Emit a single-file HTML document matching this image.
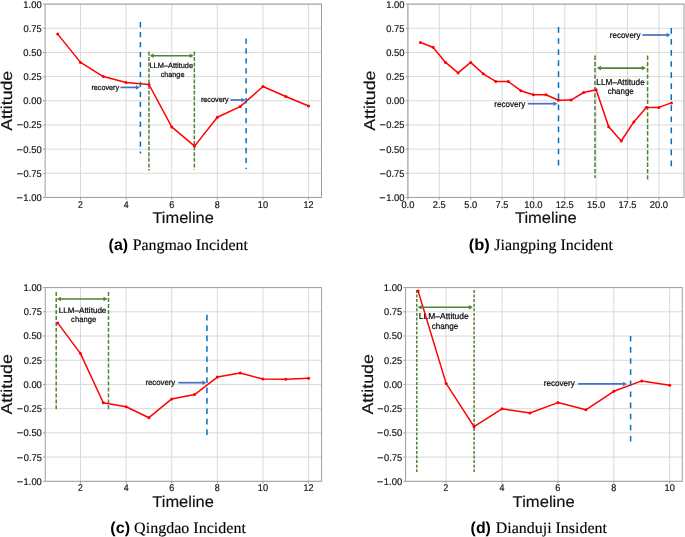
<!DOCTYPE html>
<html><head><meta charset="utf-8"><title>Attitude timelines</title>
<style>html,body{margin:0;padding:0;background:#fff;} svg{display:block;will-change:transform;text-rendering:geometricPrecision;} body{overflow:hidden;width:685px;height:537px;}</style>
</head><body>
<svg width="685" height="537" viewBox="0 0 685 537"><line x1="80.50" y1="4.11" x2="80.50" y2="197.45" stroke="#dadada" stroke-width="1"/>
<line x1="126.12" y1="4.11" x2="126.12" y2="197.45" stroke="#dadada" stroke-width="1"/>
<line x1="171.74" y1="4.11" x2="171.74" y2="197.45" stroke="#dadada" stroke-width="1"/>
<line x1="217.36" y1="4.11" x2="217.36" y2="197.45" stroke="#dadada" stroke-width="1"/>
<line x1="262.98" y1="4.11" x2="262.98" y2="197.45" stroke="#dadada" stroke-width="1"/>
<line x1="308.60" y1="4.11" x2="308.60" y2="197.45" stroke="#dadada" stroke-width="1"/>
<line x1="45.15" y1="4.11" x2="321.50" y2="4.11" stroke="#dadada" stroke-width="1"/>
<line x1="45.15" y1="28.28" x2="321.50" y2="28.28" stroke="#dadada" stroke-width="1"/>
<line x1="45.15" y1="52.45" x2="321.50" y2="52.45" stroke="#dadada" stroke-width="1"/>
<line x1="45.15" y1="76.61" x2="321.50" y2="76.61" stroke="#dadada" stroke-width="1"/>
<line x1="45.15" y1="100.78" x2="321.50" y2="100.78" stroke="#dadada" stroke-width="1"/>
<line x1="45.15" y1="124.95" x2="321.50" y2="124.95" stroke="#dadada" stroke-width="1"/>
<line x1="45.15" y1="149.12" x2="321.50" y2="149.12" stroke="#dadada" stroke-width="1"/>
<line x1="45.15" y1="173.28" x2="321.50" y2="173.28" stroke="#dadada" stroke-width="1"/>
<line x1="45.15" y1="197.45" x2="321.50" y2="197.45" stroke="#dadada" stroke-width="1"/>
<rect x="45.15" y="4.11" width="276.35" height="193.34" fill="none" stroke="#9e9e9e" stroke-width="1.0"/>
<line x1="42.95" y1="4.11" x2="45.15" y2="4.11" stroke="#9e9e9e" stroke-width="1"/>
<text x="23.36" y="7.53" font-family='"Liberation Sans"' font-size="9.8" fill="#111" textLength="18.31" lengthAdjust="spacingAndGlyphs" stroke="#1a1a1a" stroke-width="0.2">1.00</text>
<line x1="42.95" y1="28.28" x2="45.15" y2="28.28" stroke="#9e9e9e" stroke-width="1"/>
<text x="23.52" y="31.70" font-family='"Liberation Sans"' font-size="9.8" fill="#111" textLength="18.17" lengthAdjust="spacingAndGlyphs" stroke="#1a1a1a" stroke-width="0.2">0.75</text>
<line x1="42.95" y1="52.45" x2="45.15" y2="52.45" stroke="#9e9e9e" stroke-width="1"/>
<text x="23.34" y="55.87" font-family='"Liberation Sans"' font-size="9.8" fill="#111" textLength="18.33" lengthAdjust="spacingAndGlyphs" stroke="#1a1a1a" stroke-width="0.2">0.50</text>
<line x1="42.95" y1="76.61" x2="45.15" y2="76.61" stroke="#9e9e9e" stroke-width="1"/>
<text x="23.52" y="80.03" font-family='"Liberation Sans"' font-size="9.8" fill="#111" textLength="18.17" lengthAdjust="spacingAndGlyphs" stroke="#1a1a1a" stroke-width="0.2">0.25</text>
<line x1="42.95" y1="100.78" x2="45.15" y2="100.78" stroke="#9e9e9e" stroke-width="1"/>
<text x="23.34" y="104.20" font-family='"Liberation Sans"' font-size="9.8" fill="#111" textLength="18.33" lengthAdjust="spacingAndGlyphs" stroke="#1a1a1a" stroke-width="0.2">0.00</text>
<line x1="42.95" y1="124.95" x2="45.15" y2="124.95" stroke="#9e9e9e" stroke-width="1"/>
<text x="16.65" y="128.37" font-family='"Liberation Sans"' font-size="9.8" fill="#111" textLength="6.32" lengthAdjust="spacingAndGlyphs" stroke="#1a1a1a" stroke-width="0.2">−</text>
<text x="23.52" y="128.37" font-family='"Liberation Sans"' font-size="9.8" fill="#111" textLength="18.17" lengthAdjust="spacingAndGlyphs" stroke="#1a1a1a" stroke-width="0.2">0.25</text>
<line x1="42.95" y1="149.12" x2="45.15" y2="149.12" stroke="#9e9e9e" stroke-width="1"/>
<text x="16.47" y="152.54" font-family='"Liberation Sans"' font-size="9.8" fill="#111" textLength="6.32" lengthAdjust="spacingAndGlyphs" stroke="#1a1a1a" stroke-width="0.2">−</text>
<text x="23.34" y="152.54" font-family='"Liberation Sans"' font-size="9.8" fill="#111" textLength="18.33" lengthAdjust="spacingAndGlyphs" stroke="#1a1a1a" stroke-width="0.2">0.50</text>
<line x1="42.95" y1="173.28" x2="45.15" y2="173.28" stroke="#9e9e9e" stroke-width="1"/>
<text x="16.65" y="176.70" font-family='"Liberation Sans"' font-size="9.8" fill="#111" textLength="6.32" lengthAdjust="spacingAndGlyphs" stroke="#1a1a1a" stroke-width="0.2">−</text>
<text x="23.52" y="176.70" font-family='"Liberation Sans"' font-size="9.8" fill="#111" textLength="18.17" lengthAdjust="spacingAndGlyphs" stroke="#1a1a1a" stroke-width="0.2">0.75</text>
<line x1="42.95" y1="197.45" x2="45.15" y2="197.45" stroke="#9e9e9e" stroke-width="1"/>
<text x="16.47" y="200.87" font-family='"Liberation Sans"' font-size="9.8" fill="#111" textLength="6.32" lengthAdjust="spacingAndGlyphs" stroke="#1a1a1a" stroke-width="0.2">−</text>
<text x="23.36" y="200.87" font-family='"Liberation Sans"' font-size="9.8" fill="#111" textLength="18.31" lengthAdjust="spacingAndGlyphs" stroke="#1a1a1a" stroke-width="0.2">1.00</text>
<line x1="80.50" y1="197.45" x2="80.50" y2="199.65" stroke="#9e9e9e" stroke-width="1"/>
<text x="78.01" y="208.05" font-family='"Liberation Sans"' font-size="9.8" fill="#111" textLength="4.75" lengthAdjust="spacingAndGlyphs" stroke="#1a1a1a" stroke-width="0.2">2</text>
<line x1="126.12" y1="197.45" x2="126.12" y2="199.65" stroke="#9e9e9e" stroke-width="1"/>
<text x="123.65" y="208.05" font-family='"Liberation Sans"' font-size="9.8" fill="#111" textLength="4.93" lengthAdjust="spacingAndGlyphs" stroke="#1a1a1a" stroke-width="0.2">4</text>
<line x1="171.74" y1="197.45" x2="171.74" y2="199.65" stroke="#9e9e9e" stroke-width="1"/>
<text x="169.19" y="208.05" font-family='"Liberation Sans"' font-size="9.8" fill="#111" textLength="5.10" lengthAdjust="spacingAndGlyphs" stroke="#1a1a1a" stroke-width="0.2">6</text>
<line x1="217.36" y1="197.45" x2="217.36" y2="199.65" stroke="#9e9e9e" stroke-width="1"/>
<text x="214.87" y="208.05" font-family='"Liberation Sans"' font-size="9.8" fill="#111" textLength="4.98" lengthAdjust="spacingAndGlyphs" stroke="#1a1a1a" stroke-width="0.2">8</text>
<line x1="262.98" y1="197.45" x2="262.98" y2="199.65" stroke="#9e9e9e" stroke-width="1"/>
<text x="257.86" y="208.05" font-family='"Liberation Sans"' font-size="9.8" fill="#111" textLength="10.27" lengthAdjust="spacingAndGlyphs" stroke="#1a1a1a" stroke-width="0.2">10</text>
<line x1="308.60" y1="197.45" x2="308.60" y2="199.65" stroke="#9e9e9e" stroke-width="1"/>
<text x="303.49" y="208.05" font-family='"Liberation Sans"' font-size="9.8" fill="#111" textLength="10.07" lengthAdjust="spacingAndGlyphs" stroke="#1a1a1a" stroke-width="0.2">12</text>
<text x="152.44" y="223.00" font-family='"Liberation Sans"' font-size="15.7" fill="#111" textLength="61.39" lengthAdjust="spacingAndGlyphs" stroke="#111" stroke-width="0.15">Timeline</text>
<g transform="rotate(-90)">
<text x="-130.88" y="12.10" font-family='"Liberation Sans"' font-size="15.7" fill="#111" textLength="60.07" lengthAdjust="spacingAndGlyphs" stroke="#111" stroke-width="0.15">Attitude</text>
</g>
<line x1="148.95" y1="51.40" x2="148.95" y2="170.40" stroke="#538135" stroke-width="1.5" stroke-dasharray="4.00 1.60"/>
<line x1="194.35" y1="51.40" x2="194.35" y2="169.50" stroke="#538135" stroke-width="1.5" stroke-dasharray="4.00 1.60"/>
<text x="91.42" y="90.00" font-family='"Liberation Sans"' font-size="7.6" fill="#0a0a0a" textLength="27.69" lengthAdjust="spacingAndGlyphs" stroke="#0a0a0a" stroke-width="0.22">recovery</text>
<text x="200.92" y="101.90" font-family='"Liberation Sans"' font-size="7.6" fill="#0a0a0a" textLength="27.85" lengthAdjust="spacingAndGlyphs" stroke="#0a0a0a" stroke-width="0.22">recovery</text>
<text x="149.39" y="67.80" font-family='"Liberation Sans"' font-size="7.6" fill="#0a0a0a" textLength="43.74" lengthAdjust="spacingAndGlyphs" stroke="#0a0a0a" stroke-width="0.22">LLM–Attitude</text>
<text x="160.69" y="76.80" font-family='"Liberation Sans"' font-size="7.6" fill="#0a0a0a" textLength="23.73" lengthAdjust="spacingAndGlyphs" stroke="#0a0a0a" stroke-width="0.22">change</text>
<polyline points="57.69,34.10 80.50,62.40 103.31,76.60 126.12,82.50 148.93,84.50 171.74,126.90 194.55,146.10 217.36,117.30 240.17,106.60 262.98,86.50 285.79,96.50 308.60,106.00" fill="none" stroke="#ff0000" stroke-width="1.5" stroke-linejoin="round"/>
<circle cx="57.69" cy="34.10" r="1.5" fill="#ff0000"/>
<circle cx="80.50" cy="62.40" r="1.5" fill="#ff0000"/>
<circle cx="103.31" cy="76.60" r="1.5" fill="#ff0000"/>
<circle cx="126.12" cy="82.50" r="1.5" fill="#ff0000"/>
<circle cx="148.93" cy="84.50" r="1.5" fill="#ff0000"/>
<circle cx="171.74" cy="126.90" r="1.5" fill="#ff0000"/>
<circle cx="194.55" cy="146.10" r="1.5" fill="#ff0000"/>
<circle cx="217.36" cy="117.30" r="1.5" fill="#ff0000"/>
<circle cx="240.17" cy="106.60" r="1.5" fill="#ff0000"/>
<circle cx="262.98" cy="86.50" r="1.5" fill="#ff0000"/>
<circle cx="285.79" cy="96.50" r="1.5" fill="#ff0000"/>
<circle cx="308.60" cy="106.00" r="1.5" fill="#ff0000"/>
<line x1="140.40" y1="22.10" x2="140.40" y2="153.40" stroke="#0070c0" stroke-width="1.5" stroke-dasharray="5.30 4.65"/>
<line x1="246.10" y1="38.40" x2="246.10" y2="169.00" stroke="#0070c0" stroke-width="1.5" stroke-dasharray="5.30 4.65"/>
<line x1="153.10" y1="55.80" x2="190.20" y2="55.80" stroke="#538135" stroke-width="1.6"/>
<path d="M149.60,55.80 L153.60,53.50 L153.60,58.10 Z" fill="#538135"/>
<path d="M193.70,55.80 L189.70,53.50 L189.70,58.10 Z" fill="#538135"/>
<line x1="120.50" y1="87.40" x2="136.40" y2="87.40" stroke="#4472c4" stroke-width="1.7"/>
<path d="M139.90,87.40 L135.90,85.10 L135.90,89.70 Z" fill="#4472c4"/>
<line x1="230.30" y1="100.00" x2="242.00" y2="100.00" stroke="#4472c4" stroke-width="1.7"/>
<path d="M245.50,100.00 L241.50,97.70 L241.50,102.30 Z" fill="#4472c4"/>
<text x="108.61" y="249.50" font-family='"Liberation Sans"' font-size="16" font-weight="bold" fill="#000" textLength="19.49" lengthAdjust="spacingAndGlyphs">(a)</text>
<text x="132.74" y="249.50" font-family='"Liberation Serif"' font-size="15.9" fill="#000" textLength="115.15" lengthAdjust="spacingAndGlyphs" stroke="#000" stroke-width="0.15">Pangmao Incident</text>
<line x1="407.90" y1="4.11" x2="407.90" y2="197.45" stroke="#dadada" stroke-width="1"/>
<line x1="439.27" y1="4.11" x2="439.27" y2="197.45" stroke="#dadada" stroke-width="1"/>
<line x1="470.65" y1="4.11" x2="470.65" y2="197.45" stroke="#dadada" stroke-width="1"/>
<line x1="502.02" y1="4.11" x2="502.02" y2="197.45" stroke="#dadada" stroke-width="1"/>
<line x1="533.40" y1="4.11" x2="533.40" y2="197.45" stroke="#dadada" stroke-width="1"/>
<line x1="564.77" y1="4.11" x2="564.77" y2="197.45" stroke="#dadada" stroke-width="1"/>
<line x1="596.15" y1="4.11" x2="596.15" y2="197.45" stroke="#dadada" stroke-width="1"/>
<line x1="627.52" y1="4.11" x2="627.52" y2="197.45" stroke="#dadada" stroke-width="1"/>
<line x1="658.90" y1="4.11" x2="658.90" y2="197.45" stroke="#dadada" stroke-width="1"/>
<line x1="407.90" y1="4.11" x2="684.00" y2="4.11" stroke="#dadada" stroke-width="1"/>
<line x1="407.90" y1="28.28" x2="684.00" y2="28.28" stroke="#dadada" stroke-width="1"/>
<line x1="407.90" y1="52.45" x2="684.00" y2="52.45" stroke="#dadada" stroke-width="1"/>
<line x1="407.90" y1="76.61" x2="684.00" y2="76.61" stroke="#dadada" stroke-width="1"/>
<line x1="407.90" y1="100.78" x2="684.00" y2="100.78" stroke="#dadada" stroke-width="1"/>
<line x1="407.90" y1="124.95" x2="684.00" y2="124.95" stroke="#dadada" stroke-width="1"/>
<line x1="407.90" y1="149.12" x2="684.00" y2="149.12" stroke="#dadada" stroke-width="1"/>
<line x1="407.90" y1="173.28" x2="684.00" y2="173.28" stroke="#dadada" stroke-width="1"/>
<line x1="407.90" y1="197.45" x2="684.00" y2="197.45" stroke="#dadada" stroke-width="1"/>
<rect x="407.90" y="4.11" width="276.10" height="193.34" fill="none" stroke="#9e9e9e" stroke-width="1.0"/>
<line x1="405.70" y1="4.11" x2="407.90" y2="4.11" stroke="#9e9e9e" stroke-width="1"/>
<text x="386.16" y="7.53" font-family='"Liberation Sans"' font-size="9.8" fill="#111" textLength="18.31" lengthAdjust="spacingAndGlyphs" stroke="#1a1a1a" stroke-width="0.2">1.00</text>
<line x1="405.70" y1="28.28" x2="407.90" y2="28.28" stroke="#9e9e9e" stroke-width="1"/>
<text x="386.32" y="31.70" font-family='"Liberation Sans"' font-size="9.8" fill="#111" textLength="18.17" lengthAdjust="spacingAndGlyphs" stroke="#1a1a1a" stroke-width="0.2">0.75</text>
<line x1="405.70" y1="52.45" x2="407.90" y2="52.45" stroke="#9e9e9e" stroke-width="1"/>
<text x="386.14" y="55.87" font-family='"Liberation Sans"' font-size="9.8" fill="#111" textLength="18.33" lengthAdjust="spacingAndGlyphs" stroke="#1a1a1a" stroke-width="0.2">0.50</text>
<line x1="405.70" y1="76.61" x2="407.90" y2="76.61" stroke="#9e9e9e" stroke-width="1"/>
<text x="386.32" y="80.03" font-family='"Liberation Sans"' font-size="9.8" fill="#111" textLength="18.17" lengthAdjust="spacingAndGlyphs" stroke="#1a1a1a" stroke-width="0.2">0.25</text>
<line x1="405.70" y1="100.78" x2="407.90" y2="100.78" stroke="#9e9e9e" stroke-width="1"/>
<text x="386.14" y="104.20" font-family='"Liberation Sans"' font-size="9.8" fill="#111" textLength="18.33" lengthAdjust="spacingAndGlyphs" stroke="#1a1a1a" stroke-width="0.2">0.00</text>
<line x1="405.70" y1="124.95" x2="407.90" y2="124.95" stroke="#9e9e9e" stroke-width="1"/>
<text x="379.45" y="128.37" font-family='"Liberation Sans"' font-size="9.8" fill="#111" textLength="6.32" lengthAdjust="spacingAndGlyphs" stroke="#1a1a1a" stroke-width="0.2">−</text>
<text x="386.32" y="128.37" font-family='"Liberation Sans"' font-size="9.8" fill="#111" textLength="18.17" lengthAdjust="spacingAndGlyphs" stroke="#1a1a1a" stroke-width="0.2">0.25</text>
<line x1="405.70" y1="149.12" x2="407.90" y2="149.12" stroke="#9e9e9e" stroke-width="1"/>
<text x="379.27" y="152.54" font-family='"Liberation Sans"' font-size="9.8" fill="#111" textLength="6.32" lengthAdjust="spacingAndGlyphs" stroke="#1a1a1a" stroke-width="0.2">−</text>
<text x="386.14" y="152.54" font-family='"Liberation Sans"' font-size="9.8" fill="#111" textLength="18.33" lengthAdjust="spacingAndGlyphs" stroke="#1a1a1a" stroke-width="0.2">0.50</text>
<line x1="405.70" y1="173.28" x2="407.90" y2="173.28" stroke="#9e9e9e" stroke-width="1"/>
<text x="379.45" y="176.70" font-family='"Liberation Sans"' font-size="9.8" fill="#111" textLength="6.32" lengthAdjust="spacingAndGlyphs" stroke="#1a1a1a" stroke-width="0.2">−</text>
<text x="386.32" y="176.70" font-family='"Liberation Sans"' font-size="9.8" fill="#111" textLength="18.17" lengthAdjust="spacingAndGlyphs" stroke="#1a1a1a" stroke-width="0.2">0.75</text>
<line x1="405.70" y1="197.45" x2="407.90" y2="197.45" stroke="#9e9e9e" stroke-width="1"/>
<text x="379.27" y="200.87" font-family='"Liberation Sans"' font-size="9.8" fill="#111" textLength="6.32" lengthAdjust="spacingAndGlyphs" stroke="#1a1a1a" stroke-width="0.2">−</text>
<text x="386.16" y="200.87" font-family='"Liberation Sans"' font-size="9.8" fill="#111" textLength="18.31" lengthAdjust="spacingAndGlyphs" stroke="#1a1a1a" stroke-width="0.2">1.00</text>
<line x1="407.90" y1="197.45" x2="407.90" y2="199.65" stroke="#9e9e9e" stroke-width="1"/>
<text x="401.41" y="208.05" font-family='"Liberation Sans"' font-size="9.8" fill="#111" textLength="12.98" lengthAdjust="spacingAndGlyphs" stroke="#1a1a1a" stroke-width="0.2">0.0</text>
<line x1="439.27" y1="197.45" x2="439.27" y2="199.65" stroke="#9e9e9e" stroke-width="1"/>
<text x="432.75" y="208.05" font-family='"Liberation Sans"' font-size="9.8" fill="#111" textLength="12.86" lengthAdjust="spacingAndGlyphs" stroke="#1a1a1a" stroke-width="0.2">2.5</text>
<line x1="470.65" y1="197.45" x2="470.65" y2="199.65" stroke="#9e9e9e" stroke-width="1"/>
<text x="464.25" y="208.05" font-family='"Liberation Sans"' font-size="9.8" fill="#111" textLength="12.89" lengthAdjust="spacingAndGlyphs" stroke="#1a1a1a" stroke-width="0.2">5.0</text>
<line x1="502.02" y1="197.45" x2="502.02" y2="199.65" stroke="#9e9e9e" stroke-width="1"/>
<text x="495.56" y="208.05" font-family='"Liberation Sans"' font-size="9.8" fill="#111" textLength="12.79" lengthAdjust="spacingAndGlyphs" stroke="#1a1a1a" stroke-width="0.2">7.5</text>
<line x1="533.40" y1="197.45" x2="533.40" y2="199.65" stroke="#9e9e9e" stroke-width="1"/>
<text x="524.25" y="208.05" font-family='"Liberation Sans"' font-size="9.8" fill="#111" textLength="18.31" lengthAdjust="spacingAndGlyphs" stroke="#1a1a1a" stroke-width="0.2">10.0</text>
<line x1="564.77" y1="197.45" x2="564.77" y2="199.65" stroke="#9e9e9e" stroke-width="1"/>
<text x="555.64" y="208.05" font-family='"Liberation Sans"' font-size="9.8" fill="#111" textLength="18.15" lengthAdjust="spacingAndGlyphs" stroke="#1a1a1a" stroke-width="0.2">12.5</text>
<line x1="596.15" y1="197.45" x2="596.15" y2="199.65" stroke="#9e9e9e" stroke-width="1"/>
<text x="587.00" y="208.05" font-family='"Liberation Sans"' font-size="9.8" fill="#111" textLength="18.31" lengthAdjust="spacingAndGlyphs" stroke="#1a1a1a" stroke-width="0.2">15.0</text>
<line x1="627.52" y1="197.45" x2="627.52" y2="199.65" stroke="#9e9e9e" stroke-width="1"/>
<text x="618.39" y="208.05" font-family='"Liberation Sans"' font-size="9.8" fill="#111" textLength="18.15" lengthAdjust="spacingAndGlyphs" stroke="#1a1a1a" stroke-width="0.2">17.5</text>
<line x1="658.90" y1="197.45" x2="658.90" y2="199.65" stroke="#9e9e9e" stroke-width="1"/>
<text x="649.69" y="208.05" font-family='"Liberation Sans"' font-size="9.8" fill="#111" textLength="18.37" lengthAdjust="spacingAndGlyphs" stroke="#1a1a1a" stroke-width="0.2">20.0</text>
<text x="514.93" y="223.00" font-family='"Liberation Sans"' font-size="15.7" fill="#111" textLength="61.79" lengthAdjust="spacingAndGlyphs" stroke="#111" stroke-width="0.15">Timeline</text>
<g transform="rotate(-90)">
<text x="-130.88" y="374.90" font-family='"Liberation Sans"' font-size="15.7" fill="#111" textLength="60.38" lengthAdjust="spacingAndGlyphs" stroke="#111" stroke-width="0.15">Attitude</text>
</g>
<line x1="594.95" y1="55.50" x2="594.95" y2="178.00" stroke="#538135" stroke-width="1.5" stroke-dasharray="4.40 1.90"/>
<line x1="647.60" y1="55.50" x2="647.60" y2="181.40" stroke="#538135" stroke-width="1.5" stroke-dasharray="4.40 1.90"/>
<text x="494.36" y="106.70" font-family='"Liberation Sans"' font-size="8.6" fill="#0a0a0a" textLength="30.95" lengthAdjust="spacingAndGlyphs" stroke="#0a0a0a" stroke-width="0.22">recovery</text>
<text x="609.77" y="37.50" font-family='"Liberation Sans"' font-size="8.6" fill="#0a0a0a" textLength="30.75" lengthAdjust="spacingAndGlyphs" stroke="#0a0a0a" stroke-width="0.22">recovery</text>
<text x="596.33" y="84.60" font-family='"Liberation Sans"' font-size="8.6" fill="#0a0a0a" textLength="48.44" lengthAdjust="spacingAndGlyphs" stroke="#0a0a0a" stroke-width="0.22">LLM–Attitude</text>
<text x="607.66" y="93.70" font-family='"Liberation Sans"' font-size="8.6" fill="#0a0a0a" textLength="26.09" lengthAdjust="spacingAndGlyphs" stroke="#0a0a0a" stroke-width="0.22">change</text>
<polyline points="420.45,42.50 433.00,47.30 445.55,62.40 458.10,72.90 470.65,62.40 483.20,73.80 495.75,81.40 508.30,81.50 520.85,90.70 533.40,94.70 545.95,94.70 558.50,100.20 571.05,100.10 583.60,92.50 596.15,89.70 608.70,126.70 621.25,141.00 633.80,121.90 646.35,107.40 658.90,107.40 671.45,102.90" fill="none" stroke="#ff0000" stroke-width="1.5" stroke-linejoin="round"/>
<circle cx="420.45" cy="42.50" r="1.5" fill="#ff0000"/>
<circle cx="433.00" cy="47.30" r="1.5" fill="#ff0000"/>
<circle cx="445.55" cy="62.40" r="1.5" fill="#ff0000"/>
<circle cx="458.10" cy="72.90" r="1.5" fill="#ff0000"/>
<circle cx="470.65" cy="62.40" r="1.5" fill="#ff0000"/>
<circle cx="483.20" cy="73.80" r="1.5" fill="#ff0000"/>
<circle cx="495.75" cy="81.40" r="1.5" fill="#ff0000"/>
<circle cx="508.30" cy="81.50" r="1.5" fill="#ff0000"/>
<circle cx="520.85" cy="90.70" r="1.5" fill="#ff0000"/>
<circle cx="533.40" cy="94.70" r="1.5" fill="#ff0000"/>
<circle cx="545.95" cy="94.70" r="1.5" fill="#ff0000"/>
<circle cx="558.50" cy="100.20" r="1.5" fill="#ff0000"/>
<circle cx="571.05" cy="100.10" r="1.5" fill="#ff0000"/>
<circle cx="583.60" cy="92.50" r="1.5" fill="#ff0000"/>
<circle cx="596.15" cy="89.70" r="1.5" fill="#ff0000"/>
<circle cx="608.70" cy="126.70" r="1.5" fill="#ff0000"/>
<circle cx="621.25" cy="141.00" r="1.5" fill="#ff0000"/>
<circle cx="633.80" cy="121.90" r="1.5" fill="#ff0000"/>
<circle cx="646.35" cy="107.40" r="1.5" fill="#ff0000"/>
<circle cx="658.90" cy="107.40" r="1.5" fill="#ff0000"/>
<circle cx="671.45" cy="102.90" r="1.5" fill="#ff0000"/>
<line x1="558.50" y1="27.10" x2="558.50" y2="170.00" stroke="#0070c0" stroke-width="1.5" stroke-dasharray="5.70 5.35"/>
<line x1="671.30" y1="28.00" x2="671.30" y2="171.00" stroke="#0070c0" stroke-width="1.5" stroke-dasharray="5.70 5.35"/>
<line x1="600.40" y1="68.10" x2="642.30" y2="68.10" stroke="#538135" stroke-width="1.6"/>
<path d="M596.90,68.10 L600.90,65.80 L600.90,70.40 Z" fill="#538135"/>
<path d="M645.80,68.10 L641.80,65.80 L641.80,70.40 Z" fill="#538135"/>
<line x1="527.80" y1="103.70" x2="553.90" y2="103.70" stroke="#4472c4" stroke-width="1.7"/>
<path d="M557.40,103.70 L553.40,101.40 L553.40,106.00 Z" fill="#4472c4"/>
<line x1="642.30" y1="35.00" x2="667.10" y2="35.00" stroke="#4472c4" stroke-width="1.7"/>
<path d="M670.60,35.00 L666.60,32.70 L666.60,37.30 Z" fill="#4472c4"/>
<text x="468.68" y="249.50" font-family='"Liberation Sans"' font-size="16" font-weight="bold" fill="#000" textLength="21.04" lengthAdjust="spacingAndGlyphs">(b)</text>
<text x="494.26" y="249.50" font-family='"Liberation Serif"' font-size="15.9" fill="#000" textLength="118.63" lengthAdjust="spacingAndGlyphs" stroke="#000" stroke-width="0.15">Jiangping Incident</text>
<line x1="80.50" y1="287.60" x2="80.50" y2="481.30" stroke="#dadada" stroke-width="1"/>
<line x1="126.12" y1="287.60" x2="126.12" y2="481.30" stroke="#dadada" stroke-width="1"/>
<line x1="171.74" y1="287.60" x2="171.74" y2="481.30" stroke="#dadada" stroke-width="1"/>
<line x1="217.36" y1="287.60" x2="217.36" y2="481.30" stroke="#dadada" stroke-width="1"/>
<line x1="262.98" y1="287.60" x2="262.98" y2="481.30" stroke="#dadada" stroke-width="1"/>
<line x1="308.60" y1="287.60" x2="308.60" y2="481.30" stroke="#dadada" stroke-width="1"/>
<line x1="45.25" y1="287.60" x2="321.60" y2="287.60" stroke="#dadada" stroke-width="1"/>
<line x1="45.25" y1="311.81" x2="321.60" y2="311.81" stroke="#dadada" stroke-width="1"/>
<line x1="45.25" y1="336.02" x2="321.60" y2="336.02" stroke="#dadada" stroke-width="1"/>
<line x1="45.25" y1="360.24" x2="321.60" y2="360.24" stroke="#dadada" stroke-width="1"/>
<line x1="45.25" y1="384.45" x2="321.60" y2="384.45" stroke="#dadada" stroke-width="1"/>
<line x1="45.25" y1="408.66" x2="321.60" y2="408.66" stroke="#dadada" stroke-width="1"/>
<line x1="45.25" y1="432.88" x2="321.60" y2="432.88" stroke="#dadada" stroke-width="1"/>
<line x1="45.25" y1="457.09" x2="321.60" y2="457.09" stroke="#dadada" stroke-width="1"/>
<line x1="45.25" y1="481.30" x2="321.60" y2="481.30" stroke="#dadada" stroke-width="1"/>
<rect x="45.25" y="287.60" width="276.35" height="193.70" fill="none" stroke="#9e9e9e" stroke-width="1.0"/>
<line x1="43.05" y1="287.60" x2="45.25" y2="287.60" stroke="#9e9e9e" stroke-width="1"/>
<text x="23.56" y="291.02" font-family='"Liberation Sans"' font-size="9.8" fill="#111" textLength="18.31" lengthAdjust="spacingAndGlyphs" stroke="#1a1a1a" stroke-width="0.2">1.00</text>
<line x1="43.05" y1="311.81" x2="45.25" y2="311.81" stroke="#9e9e9e" stroke-width="1"/>
<text x="23.72" y="315.23" font-family='"Liberation Sans"' font-size="9.8" fill="#111" textLength="18.17" lengthAdjust="spacingAndGlyphs" stroke="#1a1a1a" stroke-width="0.2">0.75</text>
<line x1="43.05" y1="336.02" x2="45.25" y2="336.02" stroke="#9e9e9e" stroke-width="1"/>
<text x="23.54" y="339.45" font-family='"Liberation Sans"' font-size="9.8" fill="#111" textLength="18.33" lengthAdjust="spacingAndGlyphs" stroke="#1a1a1a" stroke-width="0.2">0.50</text>
<line x1="43.05" y1="360.24" x2="45.25" y2="360.24" stroke="#9e9e9e" stroke-width="1"/>
<text x="23.72" y="363.66" font-family='"Liberation Sans"' font-size="9.8" fill="#111" textLength="18.17" lengthAdjust="spacingAndGlyphs" stroke="#1a1a1a" stroke-width="0.2">0.25</text>
<line x1="43.05" y1="384.45" x2="45.25" y2="384.45" stroke="#9e9e9e" stroke-width="1"/>
<text x="23.54" y="387.87" font-family='"Liberation Sans"' font-size="9.8" fill="#111" textLength="18.33" lengthAdjust="spacingAndGlyphs" stroke="#1a1a1a" stroke-width="0.2">0.00</text>
<line x1="43.05" y1="408.66" x2="45.25" y2="408.66" stroke="#9e9e9e" stroke-width="1"/>
<text x="16.85" y="412.08" font-family='"Liberation Sans"' font-size="9.8" fill="#111" textLength="6.32" lengthAdjust="spacingAndGlyphs" stroke="#1a1a1a" stroke-width="0.2">−</text>
<text x="23.72" y="412.08" font-family='"Liberation Sans"' font-size="9.8" fill="#111" textLength="18.17" lengthAdjust="spacingAndGlyphs" stroke="#1a1a1a" stroke-width="0.2">0.25</text>
<line x1="43.05" y1="432.88" x2="45.25" y2="432.88" stroke="#9e9e9e" stroke-width="1"/>
<text x="16.67" y="436.30" font-family='"Liberation Sans"' font-size="9.8" fill="#111" textLength="6.32" lengthAdjust="spacingAndGlyphs" stroke="#1a1a1a" stroke-width="0.2">−</text>
<text x="23.54" y="436.30" font-family='"Liberation Sans"' font-size="9.8" fill="#111" textLength="18.33" lengthAdjust="spacingAndGlyphs" stroke="#1a1a1a" stroke-width="0.2">0.50</text>
<line x1="43.05" y1="457.09" x2="45.25" y2="457.09" stroke="#9e9e9e" stroke-width="1"/>
<text x="16.85" y="460.51" font-family='"Liberation Sans"' font-size="9.8" fill="#111" textLength="6.32" lengthAdjust="spacingAndGlyphs" stroke="#1a1a1a" stroke-width="0.2">−</text>
<text x="23.72" y="460.51" font-family='"Liberation Sans"' font-size="9.8" fill="#111" textLength="18.17" lengthAdjust="spacingAndGlyphs" stroke="#1a1a1a" stroke-width="0.2">0.75</text>
<line x1="43.05" y1="481.30" x2="45.25" y2="481.30" stroke="#9e9e9e" stroke-width="1"/>
<text x="16.67" y="484.72" font-family='"Liberation Sans"' font-size="9.8" fill="#111" textLength="6.32" lengthAdjust="spacingAndGlyphs" stroke="#1a1a1a" stroke-width="0.2">−</text>
<text x="23.56" y="484.72" font-family='"Liberation Sans"' font-size="9.8" fill="#111" textLength="18.31" lengthAdjust="spacingAndGlyphs" stroke="#1a1a1a" stroke-width="0.2">1.00</text>
<line x1="80.50" y1="481.30" x2="80.50" y2="483.50" stroke="#9e9e9e" stroke-width="1"/>
<text x="78.01" y="491.10" font-family='"Liberation Sans"' font-size="9.8" fill="#111" textLength="4.75" lengthAdjust="spacingAndGlyphs" stroke="#1a1a1a" stroke-width="0.2">2</text>
<line x1="126.12" y1="481.30" x2="126.12" y2="483.50" stroke="#9e9e9e" stroke-width="1"/>
<text x="123.65" y="491.10" font-family='"Liberation Sans"' font-size="9.8" fill="#111" textLength="4.93" lengthAdjust="spacingAndGlyphs" stroke="#1a1a1a" stroke-width="0.2">4</text>
<line x1="171.74" y1="481.30" x2="171.74" y2="483.50" stroke="#9e9e9e" stroke-width="1"/>
<text x="169.19" y="491.10" font-family='"Liberation Sans"' font-size="9.8" fill="#111" textLength="5.10" lengthAdjust="spacingAndGlyphs" stroke="#1a1a1a" stroke-width="0.2">6</text>
<line x1="217.36" y1="481.30" x2="217.36" y2="483.50" stroke="#9e9e9e" stroke-width="1"/>
<text x="214.87" y="491.10" font-family='"Liberation Sans"' font-size="9.8" fill="#111" textLength="4.98" lengthAdjust="spacingAndGlyphs" stroke="#1a1a1a" stroke-width="0.2">8</text>
<line x1="262.98" y1="481.30" x2="262.98" y2="483.50" stroke="#9e9e9e" stroke-width="1"/>
<text x="257.86" y="491.10" font-family='"Liberation Sans"' font-size="9.8" fill="#111" textLength="10.27" lengthAdjust="spacingAndGlyphs" stroke="#1a1a1a" stroke-width="0.2">10</text>
<line x1="308.60" y1="481.30" x2="308.60" y2="483.50" stroke="#9e9e9e" stroke-width="1"/>
<text x="303.49" y="491.10" font-family='"Liberation Sans"' font-size="9.8" fill="#111" textLength="10.07" lengthAdjust="spacingAndGlyphs" stroke="#1a1a1a" stroke-width="0.2">12</text>
<text x="152.33" y="506.70" font-family='"Liberation Sans"' font-size="15.7" fill="#111" textLength="61.49" lengthAdjust="spacingAndGlyphs" stroke="#111" stroke-width="0.15">Timeline</text>
<g transform="rotate(-90)">
<text x="-414.53" y="11.90" font-family='"Liberation Sans"' font-size="15.7" fill="#111" textLength="60.43" lengthAdjust="spacingAndGlyphs" stroke="#111" stroke-width="0.15">Attitude</text>
</g>
<line x1="56.20" y1="292.10" x2="56.20" y2="410.00" stroke="#538135" stroke-width="1.5" stroke-dasharray="4.00 1.96"/>
<line x1="108.50" y1="292.10" x2="108.50" y2="410.00" stroke="#538135" stroke-width="1.5" stroke-dasharray="4.00 1.96"/>
<text x="145.38" y="384.50" font-family='"Liberation Sans"' font-size="8.0" fill="#0a0a0a" textLength="29.83" lengthAdjust="spacingAndGlyphs" stroke="#0a0a0a" stroke-width="0.22">recovery</text>
<text x="58.84" y="312.60" font-family='"Liberation Sans"' font-size="8.0" fill="#0a0a0a" textLength="47.52" lengthAdjust="spacingAndGlyphs" stroke="#0a0a0a" stroke-width="0.22">LLM–Attitude</text>
<text x="71.08" y="321.50" font-family='"Liberation Sans"' font-size="8.0" fill="#0a0a0a" textLength="25.06" lengthAdjust="spacingAndGlyphs" stroke="#0a0a0a" stroke-width="0.22">change</text>
<polyline points="57.69,322.90 80.50,353.60 103.31,402.70 126.12,406.80 148.93,417.70 171.74,398.90 194.55,394.60 217.36,377.10 240.17,373.10 262.98,379.10 285.79,379.30 308.60,378.20" fill="none" stroke="#ff0000" stroke-width="1.5" stroke-linejoin="round"/>
<circle cx="57.69" cy="322.90" r="1.5" fill="#ff0000"/>
<circle cx="80.50" cy="353.60" r="1.5" fill="#ff0000"/>
<circle cx="103.31" cy="402.70" r="1.5" fill="#ff0000"/>
<circle cx="126.12" cy="406.80" r="1.5" fill="#ff0000"/>
<circle cx="148.93" cy="417.70" r="1.5" fill="#ff0000"/>
<circle cx="171.74" cy="398.90" r="1.5" fill="#ff0000"/>
<circle cx="194.55" cy="394.60" r="1.5" fill="#ff0000"/>
<circle cx="217.36" cy="377.10" r="1.5" fill="#ff0000"/>
<circle cx="240.17" cy="373.10" r="1.5" fill="#ff0000"/>
<circle cx="262.98" cy="379.10" r="1.5" fill="#ff0000"/>
<circle cx="285.79" cy="379.30" r="1.5" fill="#ff0000"/>
<circle cx="308.60" cy="378.20" r="1.5" fill="#ff0000"/>
<line x1="206.95" y1="314.80" x2="206.95" y2="436.50" stroke="#0070c0" stroke-width="1.5" stroke-dasharray="5.70 4.70"/>
<line x1="60.40" y1="299.00" x2="104.00" y2="299.00" stroke="#538135" stroke-width="1.6"/>
<path d="M56.90,299.00 L60.90,296.70 L60.90,301.30 Z" fill="#538135"/>
<path d="M107.50,299.00 L103.50,296.70 L103.50,301.30 Z" fill="#538135"/>
<line x1="178.30" y1="382.70" x2="202.90" y2="382.70" stroke="#4472c4" stroke-width="1.7"/>
<path d="M206.40,382.70 L202.40,380.40 L202.40,385.00 Z" fill="#4472c4"/>
<text x="110.30" y="532.60" font-family='"Liberation Sans"' font-size="16" font-weight="bold" fill="#000" textLength="19.71" lengthAdjust="spacingAndGlyphs">(c)</text>
<text x="134.14" y="532.60" font-family='"Liberation Serif"' font-size="15.9" fill="#000" textLength="111.75" lengthAdjust="spacingAndGlyphs" stroke="#000" stroke-width="0.15">Qingdao Incident</text>
<line x1="446.10" y1="287.60" x2="446.10" y2="481.30" stroke="#dadada" stroke-width="1"/>
<line x1="502.00" y1="287.60" x2="502.00" y2="481.30" stroke="#dadada" stroke-width="1"/>
<line x1="557.90" y1="287.60" x2="557.90" y2="481.30" stroke="#dadada" stroke-width="1"/>
<line x1="613.80" y1="287.60" x2="613.80" y2="481.30" stroke="#dadada" stroke-width="1"/>
<line x1="669.70" y1="287.60" x2="669.70" y2="481.30" stroke="#dadada" stroke-width="1"/>
<line x1="405.57" y1="287.60" x2="682.28" y2="287.60" stroke="#dadada" stroke-width="1"/>
<line x1="405.57" y1="311.81" x2="682.28" y2="311.81" stroke="#dadada" stroke-width="1"/>
<line x1="405.57" y1="336.02" x2="682.28" y2="336.02" stroke="#dadada" stroke-width="1"/>
<line x1="405.57" y1="360.24" x2="682.28" y2="360.24" stroke="#dadada" stroke-width="1"/>
<line x1="405.57" y1="384.45" x2="682.28" y2="384.45" stroke="#dadada" stroke-width="1"/>
<line x1="405.57" y1="408.66" x2="682.28" y2="408.66" stroke="#dadada" stroke-width="1"/>
<line x1="405.57" y1="432.88" x2="682.28" y2="432.88" stroke="#dadada" stroke-width="1"/>
<line x1="405.57" y1="457.09" x2="682.28" y2="457.09" stroke="#dadada" stroke-width="1"/>
<line x1="405.57" y1="481.30" x2="682.28" y2="481.30" stroke="#dadada" stroke-width="1"/>
<rect x="405.57" y="287.60" width="276.70" height="193.70" fill="none" stroke="#9e9e9e" stroke-width="1.0"/>
<line x1="403.37" y1="287.60" x2="405.57" y2="287.60" stroke="#9e9e9e" stroke-width="1"/>
<text x="383.86" y="291.02" font-family='"Liberation Sans"' font-size="9.8" fill="#111" textLength="18.31" lengthAdjust="spacingAndGlyphs" stroke="#1a1a1a" stroke-width="0.2">1.00</text>
<line x1="403.37" y1="311.81" x2="405.57" y2="311.81" stroke="#9e9e9e" stroke-width="1"/>
<text x="384.02" y="315.23" font-family='"Liberation Sans"' font-size="9.8" fill="#111" textLength="18.17" lengthAdjust="spacingAndGlyphs" stroke="#1a1a1a" stroke-width="0.2">0.75</text>
<line x1="403.37" y1="336.02" x2="405.57" y2="336.02" stroke="#9e9e9e" stroke-width="1"/>
<text x="383.84" y="339.45" font-family='"Liberation Sans"' font-size="9.8" fill="#111" textLength="18.33" lengthAdjust="spacingAndGlyphs" stroke="#1a1a1a" stroke-width="0.2">0.50</text>
<line x1="403.37" y1="360.24" x2="405.57" y2="360.24" stroke="#9e9e9e" stroke-width="1"/>
<text x="384.02" y="363.66" font-family='"Liberation Sans"' font-size="9.8" fill="#111" textLength="18.17" lengthAdjust="spacingAndGlyphs" stroke="#1a1a1a" stroke-width="0.2">0.25</text>
<line x1="403.37" y1="384.45" x2="405.57" y2="384.45" stroke="#9e9e9e" stroke-width="1"/>
<text x="383.84" y="387.87" font-family='"Liberation Sans"' font-size="9.8" fill="#111" textLength="18.33" lengthAdjust="spacingAndGlyphs" stroke="#1a1a1a" stroke-width="0.2">0.00</text>
<line x1="403.37" y1="408.66" x2="405.57" y2="408.66" stroke="#9e9e9e" stroke-width="1"/>
<text x="377.15" y="412.08" font-family='"Liberation Sans"' font-size="9.8" fill="#111" textLength="6.32" lengthAdjust="spacingAndGlyphs" stroke="#1a1a1a" stroke-width="0.2">−</text>
<text x="384.02" y="412.08" font-family='"Liberation Sans"' font-size="9.8" fill="#111" textLength="18.17" lengthAdjust="spacingAndGlyphs" stroke="#1a1a1a" stroke-width="0.2">0.25</text>
<line x1="403.37" y1="432.88" x2="405.57" y2="432.88" stroke="#9e9e9e" stroke-width="1"/>
<text x="376.97" y="436.30" font-family='"Liberation Sans"' font-size="9.8" fill="#111" textLength="6.32" lengthAdjust="spacingAndGlyphs" stroke="#1a1a1a" stroke-width="0.2">−</text>
<text x="383.84" y="436.30" font-family='"Liberation Sans"' font-size="9.8" fill="#111" textLength="18.33" lengthAdjust="spacingAndGlyphs" stroke="#1a1a1a" stroke-width="0.2">0.50</text>
<line x1="403.37" y1="457.09" x2="405.57" y2="457.09" stroke="#9e9e9e" stroke-width="1"/>
<text x="377.15" y="460.51" font-family='"Liberation Sans"' font-size="9.8" fill="#111" textLength="6.32" lengthAdjust="spacingAndGlyphs" stroke="#1a1a1a" stroke-width="0.2">−</text>
<text x="384.02" y="460.51" font-family='"Liberation Sans"' font-size="9.8" fill="#111" textLength="18.17" lengthAdjust="spacingAndGlyphs" stroke="#1a1a1a" stroke-width="0.2">0.75</text>
<line x1="403.37" y1="481.30" x2="405.57" y2="481.30" stroke="#9e9e9e" stroke-width="1"/>
<text x="376.97" y="484.72" font-family='"Liberation Sans"' font-size="9.8" fill="#111" textLength="6.32" lengthAdjust="spacingAndGlyphs" stroke="#1a1a1a" stroke-width="0.2">−</text>
<text x="383.86" y="484.72" font-family='"Liberation Sans"' font-size="9.8" fill="#111" textLength="18.31" lengthAdjust="spacingAndGlyphs" stroke="#1a1a1a" stroke-width="0.2">1.00</text>
<line x1="446.10" y1="481.30" x2="446.10" y2="483.50" stroke="#9e9e9e" stroke-width="1"/>
<text x="443.61" y="491.10" font-family='"Liberation Sans"' font-size="9.8" fill="#111" textLength="4.75" lengthAdjust="spacingAndGlyphs" stroke="#1a1a1a" stroke-width="0.2">2</text>
<line x1="502.00" y1="481.30" x2="502.00" y2="483.50" stroke="#9e9e9e" stroke-width="1"/>
<text x="499.53" y="491.10" font-family='"Liberation Sans"' font-size="9.8" fill="#111" textLength="4.93" lengthAdjust="spacingAndGlyphs" stroke="#1a1a1a" stroke-width="0.2">4</text>
<line x1="557.90" y1="481.30" x2="557.90" y2="483.50" stroke="#9e9e9e" stroke-width="1"/>
<text x="555.35" y="491.10" font-family='"Liberation Sans"' font-size="9.8" fill="#111" textLength="5.10" lengthAdjust="spacingAndGlyphs" stroke="#1a1a1a" stroke-width="0.2">6</text>
<line x1="613.80" y1="481.30" x2="613.80" y2="483.50" stroke="#9e9e9e" stroke-width="1"/>
<text x="611.31" y="491.10" font-family='"Liberation Sans"' font-size="9.8" fill="#111" textLength="4.98" lengthAdjust="spacingAndGlyphs" stroke="#1a1a1a" stroke-width="0.2">8</text>
<line x1="669.70" y1="481.30" x2="669.70" y2="483.50" stroke="#9e9e9e" stroke-width="1"/>
<text x="664.58" y="491.10" font-family='"Liberation Sans"' font-size="9.8" fill="#111" textLength="10.27" lengthAdjust="spacingAndGlyphs" stroke="#1a1a1a" stroke-width="0.2">10</text>
<text x="512.63" y="506.90" font-family='"Liberation Sans"' font-size="15.7" fill="#111" textLength="62.10" lengthAdjust="spacingAndGlyphs" stroke="#111" stroke-width="0.15">Timeline</text>
<g transform="rotate(-90)">
<text x="-414.53" y="372.70" font-family='"Liberation Sans"' font-size="15.7" fill="#111" textLength="60.43" lengthAdjust="spacingAndGlyphs" stroke="#111" stroke-width="0.15">Attitude</text>
</g>
<line x1="416.80" y1="289.90" x2="416.80" y2="472.00" stroke="#538135" stroke-width="1.5" stroke-dasharray="3.00 1.60"/>
<line x1="474.10" y1="289.90" x2="474.10" y2="472.00" stroke="#538135" stroke-width="1.5" stroke-dasharray="3.00 1.60"/>
<text x="543.76" y="386.40" font-family='"Liberation Sans"' font-size="8.6" fill="#0a0a0a" textLength="30.95" lengthAdjust="spacingAndGlyphs" stroke="#0a0a0a" stroke-width="0.22">recovery</text>
<text x="418.80" y="318.60" font-family='"Liberation Sans"' font-size="8.6" fill="#0a0a0a" textLength="49.97" lengthAdjust="spacingAndGlyphs" stroke="#0a0a0a" stroke-width="0.22">LLM–Attitude</text>
<text x="431.86" y="328.50" font-family='"Liberation Sans"' font-size="8.6" fill="#0a0a0a" textLength="26.30" lengthAdjust="spacingAndGlyphs" stroke="#0a0a0a" stroke-width="0.22">change</text>
<polyline points="418.15,291.10 446.10,383.40 474.05,426.70 502.00,408.80 529.95,413.00 557.90,402.60 585.85,409.80 613.80,391.30 641.75,380.90 669.70,385.30" fill="none" stroke="#ff0000" stroke-width="1.5" stroke-linejoin="round"/>
<circle cx="418.15" cy="291.10" r="1.5" fill="#ff0000"/>
<circle cx="446.10" cy="383.40" r="1.5" fill="#ff0000"/>
<circle cx="474.05" cy="426.70" r="1.5" fill="#ff0000"/>
<circle cx="502.00" cy="408.80" r="1.5" fill="#ff0000"/>
<circle cx="529.95" cy="413.00" r="1.5" fill="#ff0000"/>
<circle cx="557.90" cy="402.60" r="1.5" fill="#ff0000"/>
<circle cx="585.85" cy="409.80" r="1.5" fill="#ff0000"/>
<circle cx="613.80" cy="391.30" r="1.5" fill="#ff0000"/>
<circle cx="641.75" cy="380.90" r="1.5" fill="#ff0000"/>
<circle cx="669.70" cy="385.30" r="1.5" fill="#ff0000"/>
<line x1="630.60" y1="336.00" x2="630.60" y2="443.00" stroke="#0070c0" stroke-width="1.5" stroke-dasharray="5.60 5.50"/>
<line x1="421.10" y1="307.20" x2="469.40" y2="307.20" stroke="#538135" stroke-width="1.6"/>
<path d="M417.60,307.20 L421.60,304.90 L421.60,309.50 Z" fill="#538135"/>
<path d="M472.90,307.20 L468.90,304.90 L468.90,309.50 Z" fill="#538135"/>
<line x1="578.20" y1="383.95" x2="623.50" y2="383.95" stroke="#4472c4" stroke-width="1.7"/>
<path d="M627.00,383.95 L623.00,381.65 L623.00,386.25 Z" fill="#4472c4"/>
<text x="470.61" y="532.60" font-family='"Liberation Sans"' font-size="16" font-weight="bold" fill="#000" textLength="20.28" lengthAdjust="spacingAndGlyphs">(d)</text>
<text x="495.84" y="532.60" font-family='"Liberation Serif"' font-size="15.9" fill="#000" textLength="111.05" lengthAdjust="spacingAndGlyphs" stroke="#000" stroke-width="0.15">Dianduji Insident</text></svg>
</body></html>
